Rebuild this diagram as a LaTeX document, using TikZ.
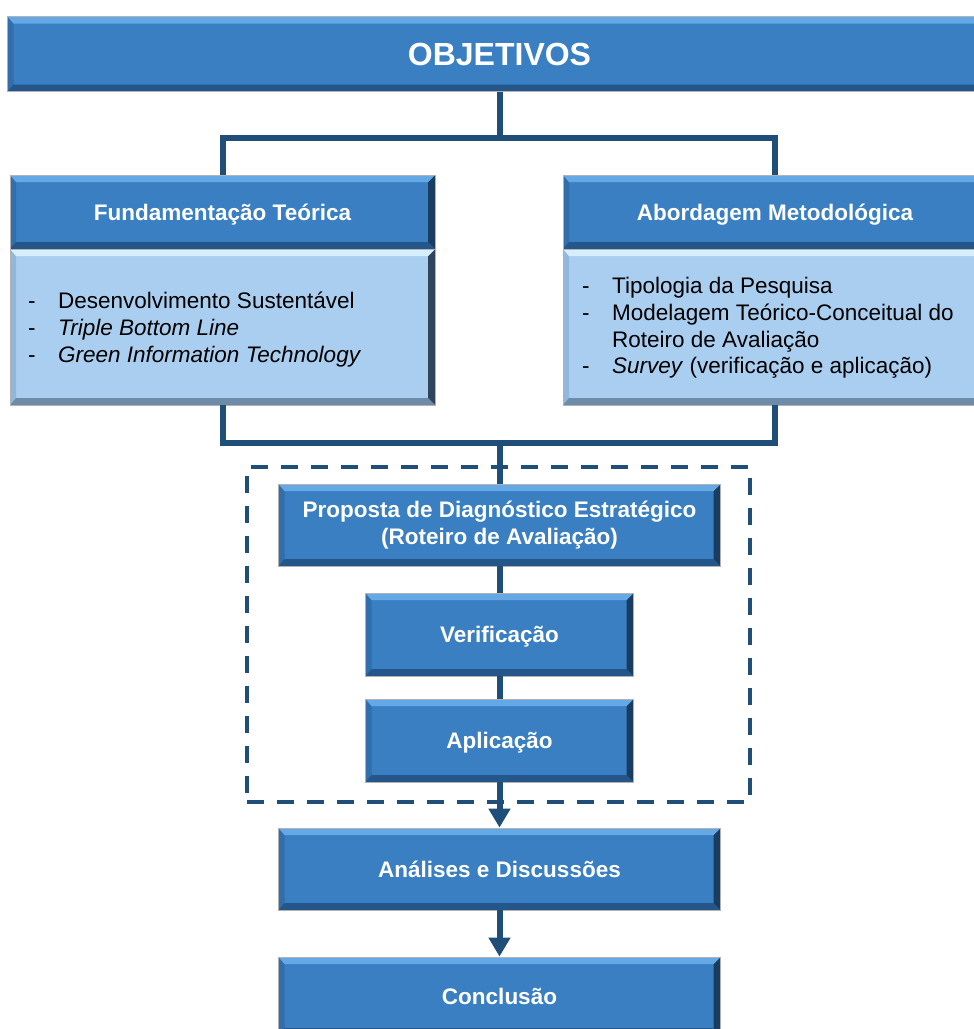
\documentclass[tikz,border=0pt]{standalone}
\usepackage{fontspec}
\setmainfont{Liberation Sans}
\usetikzlibrary{arrows.meta}
\definecolor{mainblue}{RGB}{57,127,194}
\definecolor{btop}{RGB}{100,168,230}
\definecolor{bleft}{RGB}{48,110,172}
\definecolor{bbot}{RGB}{36,86,138}
\definecolor{bright}{RGB}{26,60,96}
\definecolor{lightblue}{RGB}{170,206,240}
\definecolor{ltop}{RGB}{214,238,253}
\definecolor{lleft}{RGB}{145,184,218}
\definecolor{lbot}{RGB}{110,140,170}
\definecolor{lright}{RGB}{48,68,90}
\definecolor{linecol}{RGB}{31,78,121}
\tikzset{
  bevel/.style n args={4}{path picture={
    \coordinate (bvnw) at (path picture bounding box.north west);
    \coordinate (bvne) at (path picture bounding box.north east);
    \coordinate (bvsw) at (path picture bounding box.south west);
    \coordinate (bvse) at (path picture bounding box.south east);
    \fill[#2] (bvnw) -- (bvsw) -- ([shift={(6pt,7pt)}]bvsw) -- ([shift={(6pt,-7pt)}]bvnw) -- cycle;
    \fill[#4] (bvne) -- (bvse) -- ([shift={(-7pt,7pt)}]bvse) -- ([shift={(-7pt,-7pt)}]bvne) -- cycle;
    \fill[#1] (bvnw) -- (bvne) -- ([shift={(-7pt,-7pt)}]bvne) -- ([shift={(6pt,-7pt)}]bvnw) -- cycle;
    \fill[#3] (bvsw) -- (bvse) -- ([shift={(-7pt,7pt)}]bvse) -- ([shift={(6pt,7pt)}]bvsw) -- cycle;
  }},
  bluebox/.style={rectangle, inner sep=0pt, fill=mainblue, draw=black!30, line width=0.8pt,
    bevel={btop}{bleft}{bbot}{bright}, text=white, font=\fontsize{22.5}{27}\selectfont\bfseries, align=center},
  oneline/.style={text height=16pt, text depth=0pt},
  lightbox/.style={rectangle, inner sep=0pt, fill=lightblue, draw=black!30, line width=0.8pt,
    bevel={ltop}{lleft}{lbot}{lright}},
  listline/.style={anchor=base west, inner sep=0pt, font=\fontsize{22.5}{27}\selectfont, text=black},
  conn/.style={draw=linecol, line width=6pt},
  arr/.style={conn, -{Triangle[width=21pt,length=19pt]}},
  dashbox/.style={rectangle, draw=linecol, line width=4pt, dash pattern=on 17pt off 13pt, inner sep=0pt}
}
\newcommand\dashitem{\makebox[30pt][l]{-}}
\begin{document}
\begin{tikzpicture}[x=1pt,y=-1pt]
\useasboundingbox (0,0) rectangle (974,1029);
\clip (0,0) rectangle (974,1029);
\fill[white] (0,0) rectangle (974,1029);
% dashed group
\node[dashbox, minimum width=503pt, minimum height=335pt] (grp) at (498.5,634.5) {};
% boxes
\node[bluebox, minimum width=984pt, minimum height=75pt, font=\fontsize{32}{36}\selectfont\bfseries, text height=23pt, text depth=0pt] (obj) at (499.5,54) {OBJETIVOS};
\node[bluebox, oneline, minimum width=425pt, minimum height=74pt] (fthead) at (222.5,212) {Fundamenta\c{c}\~ao Te\'orica};
\node[lightbox, minimum width=425pt, minimum height=156pt] (ftbody) at (222.5,327) {};
\node[bluebox, oneline, minimum width=424pt, minimum height=74pt] (amhead) at (775,212) {Abordagem Metodol\'ogica};
\node[lightbox, minimum width=424pt, minimum height=156pt] (ambody) at (775,327) {};
\node[listline] (ft1) at (28,308) {\dashitem Desenvolvimento Sustent\'avel};
\node[listline] (ft2) at (28,335) {\dashitem\textit{Triple Bottom Line}};
\node[listline] (ft3) at (28,362) {\dashitem\textit{Green Information Technology}};
\node[listline] (am1) at (582,293) {\dashitem Tipologia da Pesquisa};
\node[listline] (am2) at (582,320) {\dashitem Modelagem Te\'orico-Conceitual do};
\node[listline] (am3) at (612,347) {Roteiro de Avalia\c{c}\~ao};
\node[listline] (am4) at (582,373) {\dashitem\textit{Survey} (verifica\c{c}\~ao e aplica\c{c}\~ao)};
\node[bluebox, minimum width=442pt, minimum height=82pt] (prop) at (499.5,525) {Proposta de Diagn\'ostico Estrat\'egico\\(Roteiro de Avalia\c{c}\~ao)};
\node[bluebox, oneline, minimum width=268pt, minimum height=83pt] (ver) at (499.5,634.5) {Verifica\c{c}\~ao};
\node[bluebox, oneline, minimum width=268pt, minimum height=83pt] (apl) at (499.5,740.5) {Aplica\c{c}\~ao};
\node[bluebox, oneline, minimum width=442pt, minimum height=82pt] (ana) at (499.5,869) {An\'alises e Discuss\~oes};
\node[bluebox, oneline, minimum width=442pt, minimum height=78pt] (con) at (499.5,996) {Conclus\~ao};
% connectors
\coordinate (topbar) at (499.5,138);
\coordinate (midbar) at (499.5,443);
\draw[conn] (obj.south) -- (topbar);
\draw[conn] (fthead.north) |- (topbar) -| (amhead.north);
\draw[conn] (ftbody.south) |- (midbar) -| (ambody.south);
\draw[conn] (midbar) -- (prop.north);
\draw[conn] (prop.south) -- (ver.north);
\draw[conn] (ver.south) -- (apl.north);
\draw[arr] (apl.south) -- (ana.north);
\draw[arr] (ana.south) -- (con.north);
\end{tikzpicture}
\end{document}
